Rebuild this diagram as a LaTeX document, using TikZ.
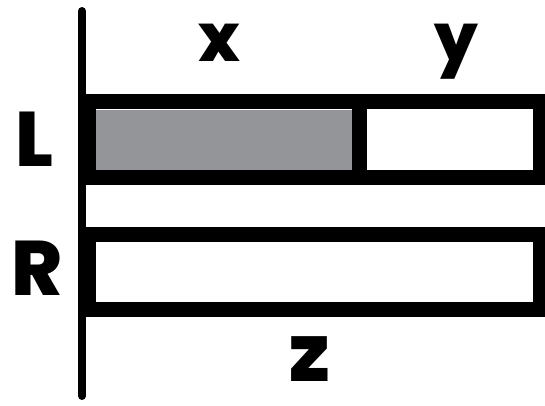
\documentclass[tikz,border=0pt]{standalone}
\usepackage{fontspec}
\setmainfont{Poppins}[BoldFont={Poppins ExtraBold}]
\definecolor{bargray}{HTML}{939598}
\tikzset{
  bar/.style={draw=black, line width=11.25pt},
  lbl/.style={anchor=base, font=\fontsize{50}{50}\selectfont\bfseries, inner sep=0pt}
}
\begin{document}
\begin{tikzpicture}[x=0.75pt, y=0.75pt]
    \useasboundingbox (0,0) rectangle (545,405);
    % axis
    \draw[line width=6pt, line cap=round] (82,394) -- (82,9);
    % top bar L
    \fill[bargray] (96,235) rectangle (352,295);
    \draw[bar] (88.5,227.5) rectangle (540.5,303.5);
    \draw[bar] (359.5,227.5) -- (359.5,303.5);
    % bottom bar R
    \draw[bar] (88.5,95.5) rectangle (540.5,170.5);
    % labels
    \node[lbl] (lx) at (219,344) {x};
    \node[lbl] (ly) at (456,344) {y};
    \node[lbl, font=\fontsize{58}{58}\selectfont\bfseries] (lL) at (34,239) {L};
    \node[lbl, font=\fontsize{58}{58}\selectfont\bfseries] (lR) at (37,110) {R};
    \node[lbl, font=\fontsize{60}{60}\selectfont\bfseries] (lz) at (310,24) {z};
\end{tikzpicture}
\end{document}
